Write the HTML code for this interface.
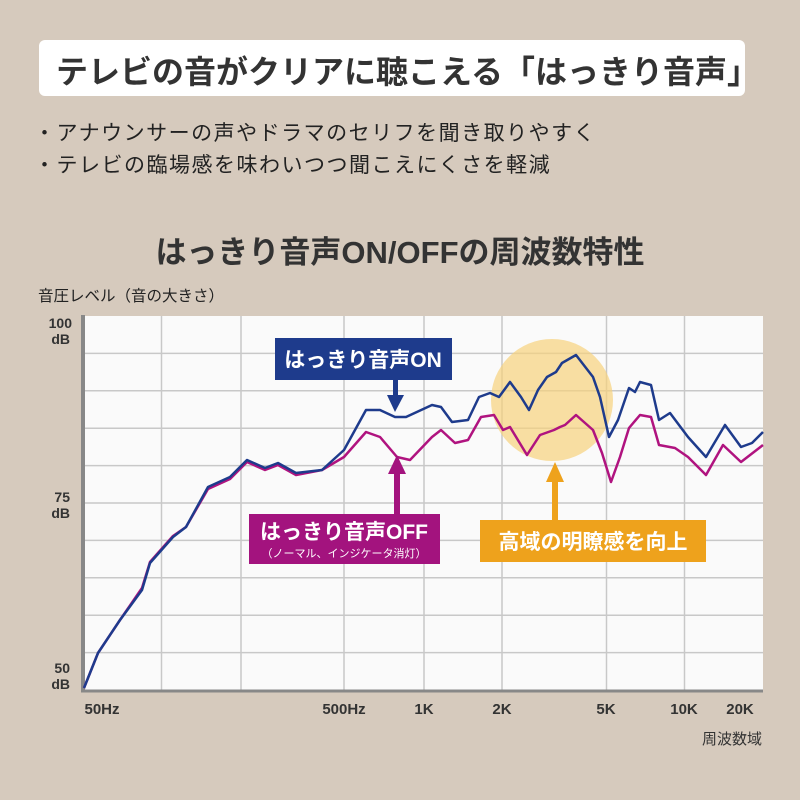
<!DOCTYPE html>
<html><head><meta charset="utf-8"><style>
body{margin:0;width:800px;height:800px;background:#d6cabd;font-family:"Liberation Sans","Noto Sans CJK JP",sans-serif;overflow:hidden;position:relative;color:#333}
.t{position:absolute;white-space:nowrap}
</style></head><body>
<div class="t" style="left:39px;top:40px;width:706px;height:56px;background:#fff;border-radius:6px"></div>
<div class="t" style="left:56px;top:47px;font-size:32px;font-weight:bold;color:#333">テレビの音がクリアに聴こえる「はっきり音声」</div>
<div class="t" style="left:34px;top:117px;font-size:21px;letter-spacing:1.5px;color:#222">・アナウンサーの声やドラマのセリフを聞き取りやすく</div>
<div class="t" style="left:34px;top:149px;font-size:21px;letter-spacing:1.5px;color:#222">・テレビの臨場感を味わいつつ聞こえにくさを軽減</div>
<div class="t" style="left:0;width:800px;text-align:center;top:227px;font-size:31px;font-weight:bold;color:#333">はっきり音声ON/OFFの周波数特性</div>
<div class="t" style="left:38px;top:284px;font-size:15.5px;color:#222">音圧レベル（音の大きさ）</div>
<svg width="800" height="800" style="position:absolute;left:0;top:0" font-family="Liberation Sans, Noto Sans CJK JP, sans-serif">
<rect x="84" y="316" width="679" height="374" fill="#fafafa"/>
<g stroke="#c8c8c8" stroke-width="1.5">
<line x1="84" x2="763" y1="353.4" y2="353.4"/><line x1="84" x2="763" y1="390.8" y2="390.8"/><line x1="84" x2="763" y1="428.2" y2="428.2"/><line x1="84" x2="763" y1="465.6" y2="465.6"/><line x1="84" x2="763" y1="503" y2="503"/><line x1="84" x2="763" y1="540.4" y2="540.4"/><line x1="84" x2="763" y1="577.8" y2="577.8"/><line x1="84" x2="763" y1="615.2" y2="615.2"/><line x1="84" x2="763" y1="652.6" y2="652.6"/>
<line y1="316" y2="690" x1="161.5" x2="161.5"/><line y1="316" y2="690" x1="241" x2="241"/><line y1="316" y2="690" x1="344" x2="344"/><line y1="316" y2="690" x1="424" x2="424"/><line y1="316" y2="690" x1="502" x2="502"/><line y1="316" y2="690" x1="606.5" x2="606.5"/><line y1="316" y2="690" x1="684.5" x2="684.5"/>
</g>
<line x1="83" y1="315" x2="83" y2="692" stroke="#888" stroke-width="4"/>
<line x1="81" y1="691" x2="763" y2="691" stroke="#888" stroke-width="3"/>
<circle cx="552" cy="400" r="61" fill="#f6d27c" opacity="0.7"/>
<polyline fill="none" stroke="#b0137f" stroke-width="2.5" stroke-linejoin="round" points="84,688 98,653 120,620 142,588 150,562 173,536 186,527 208,489 230,479 247,462 265,470 278,465 296,475 322,470 344,457 366,432 380,437 397,457 410,460 432,437 441,430 455,443 468,440 481,417 494,415 503,430 510,427 527,455 540,435 554,430 560,427 565,425 576,415 593,430 602,453 611,482 620,457 629,428 640,415 651,417 659,445 675,448 688,457 706,475 723,445 741,462 763,445"/>
<polyline fill="none" stroke="#1e3b8c" stroke-width="2.5" stroke-linejoin="round" points="84,688 98,653 120,620 142,590 150,563 173,537 186,527 208,487 230,477 247,460 265,468 278,463 296,473 322,470 344,450 366,410 380,410 395,417 406,417 432,405 441,407 452,422 468,420 479,397 490,393 499,397 510,382 521,397 529,410 538,390 547,377 556,372 562,363 576,355 593,377 600,397 609,437 618,420 629,388 635,392 640,382 651,385 659,420 670,413 688,437 706,457 725,425 741,447 752,443 763,432"/>
<g font-size="14" font-weight="bold" fill="#333" text-anchor="end">
<text x="72" y="328">100</text><text x="70" y="344">dB</text>
<text x="70" y="502">75</text><text x="70" y="518">dB</text>
<text x="70" y="673">50</text><text x="70" y="689">dB</text>
</g>
<g font-size="15" font-weight="bold" fill="#333" text-anchor="middle">
<text x="102" y="714">50Hz</text><text x="344" y="714">500Hz</text><text x="424" y="714">1K</text><text x="502" y="714">2K</text><text x="606" y="714">5K</text><text x="684" y="714">10K</text><text x="740" y="714">20K</text>
</g>
<text x="762" y="744" font-size="15" fill="#333" text-anchor="end">周波数域</text>
<rect x="275" y="338" width="177" height="42" fill="#1e3b8c"/>
<text x="363" y="367" font-size="21" font-weight="bold" fill="#fff" text-anchor="middle">はっきり音声ON</text>
<rect x="393" y="380" width="5" height="18" fill="#1e3b8c"/><polygon points="387,395 404,395 395,412" fill="#1e3b8c"/>
<rect x="249" y="514" width="191" height="50" fill="#a3137e"/>
<text x="344" y="539" font-size="21" font-weight="bold" fill="#fff" text-anchor="middle">はっきり音声OFF</text>
<text x="344" y="557" font-size="11" fill="#fff" text-anchor="middle">（ノーマル、インジケータ消灯）</text>
<rect x="394" y="470" width="6" height="44" fill="#a3137e"/><polygon points="388,474 406,474 397,455" fill="#a3137e"/>
<rect x="480" y="520" width="226" height="42" fill="#eea21c"/>
<text x="593" y="549" font-size="21" font-weight="bold" fill="#fff" text-anchor="middle">高域の明瞭感を向上</text>
<rect x="552" y="478" width="6" height="42" fill="#eea21c"/><polygon points="546,482 564,482 555,462" fill="#eea21c"/>
</svg>
</body></html>
